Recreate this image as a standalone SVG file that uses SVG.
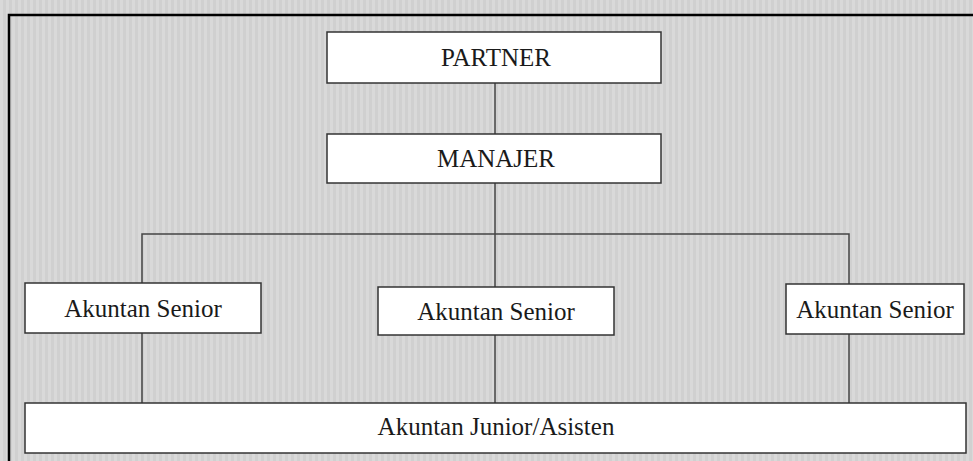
<svg xmlns="http://www.w3.org/2000/svg" width="973" height="461" viewBox="0 0 973 461">
  <defs>
    <!-- fine vertical stripes for the page background -->
    <pattern id="stripes" x="0" y="0" width="6" height="10" patternUnits="userSpaceOnUse">
      <rect x="0" y="0" width="3" height="10" fill="#d9d9d9"/>
      <rect x="3" y="0" width="3" height="10" fill="#d0d0d0"/>
    </pattern>
    <style>
      .box { fill: #ffffff; stroke: #333333; stroke-width: 1.5; }
      .link { fill: none; stroke: #444444; stroke-width: 1.5; }
      .label { font-family: "Liberation Serif", "Times New Roman", serif; font-size: 25px; fill: #1a1a1a; text-anchor: middle; }
    </style>
  </defs>

  <!-- background and frame -->
  <rect x="0" y="0" width="973" height="461" fill="url(#stripes)"/>
  <rect x="9" y="15" width="980" height="470" fill="none" stroke="#000000" stroke-width="2.5"/>

  <!-- connectors -->
  <g id="connectors">
    <line class="link" x1="495" y1="83" x2="495" y2="134"/>
    <line class="link" x1="495" y1="183" x2="495" y2="287"/>
    <polyline class="link" points="142,283 142,234 849,234 849,284"/>
    <line class="link" x1="142" y1="333" x2="142" y2="403"/>
    <line class="link" x1="495" y1="335" x2="495" y2="403"/>
    <line class="link" x1="849" y1="334" x2="849" y2="403"/>
  </g>

  <g id="partner">
    <rect class="box" x="327" y="32" width="334" height="51"/>
    <text class="label" x="496" y="66">PARTNER</text>
  </g>

  <g id="manajer">
    <rect class="box" x="327" y="134" width="334" height="49"/>
    <text class="label" x="496" y="167">MANAJER</text>
  </g>

  <g id="senior-left">
    <rect class="box" x="25" y="283" width="236" height="50"/>
    <text class="label" x="143" y="317">Akuntan Senior</text>
  </g>

  <g id="senior-middle">
    <rect class="box" x="378" y="287" width="236" height="48"/>
    <text class="label" x="496" y="320">Akuntan Senior</text>
  </g>

  <g id="senior-right">
    <rect class="box" x="786" y="284" width="178" height="50"/>
    <text class="label" x="875" y="318">Akuntan Senior</text>
  </g>

  <g id="junior">
    <rect class="box" x="25" y="403" width="941" height="50"/>
    <text class="label" x="496" y="435">Akuntan Junior/Asisten</text>
  </g>
</svg>
